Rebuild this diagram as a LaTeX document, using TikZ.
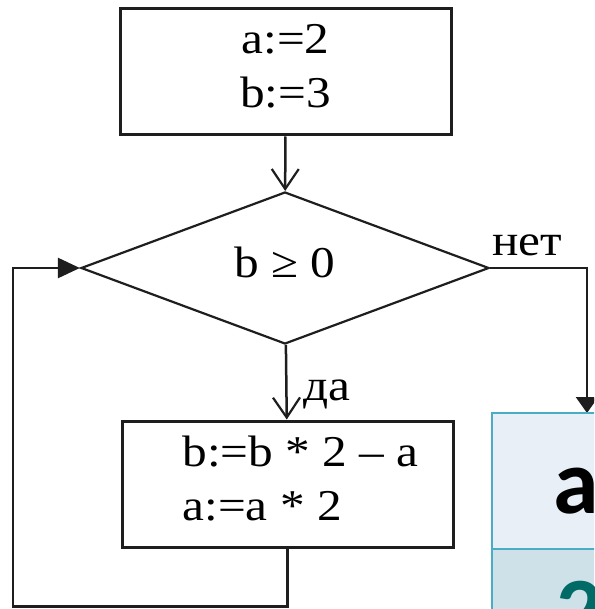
\documentclass[tikz,border=0pt]{standalone}
\usepackage{fontspec}
\setmainfont{Liberation Serif}[FakeStretch=1.12]
\newfontfamily\tabfont{Carlito}
\usetikzlibrary{shapes.geometric,arrows.meta,positioning}
\definecolor{lineblack}{HTML}{1E1E1E}
\definecolor{tabedge}{HTML}{4BACC6}
\definecolor{tabhead}{HTML}{E8EFF6}
\definecolor{tabrow}{HTML}{CFE1E8}
\definecolor{tabnum}{HTML}{006B66}

\begin{document}
\begin{tikzpicture}[x=1pt,y=-1pt,
    font=\fontsize{44}{54}\selectfont,
    block/.style={draw=lineblack, line width=3pt, rectangle, inner sep=0pt,
      minimum width=331pt, minimum height=126pt, text depth=12pt},
    decision/.style={draw=lineblack, line width=2.2pt, diamond, inner sep=0pt,
      minimum width=408pt, minimum height=152pt, text depth=12pt},
    flow/.style={draw=lineblack, line width=2.5pt},
    vee/.style={-{Straight Barb[length=20pt,width=27pt,line width=2.2pt]}},
    tri/.style={-{Triangle[length=22pt,width=20pt]}}]
    \useasboundingbox (0,0) rectangle (594,609);
    \clip (0,0) rectangle (594,609);

    % flowchart blocks
    \node[block, align=center] (init) at (285.5,72) {a:=2\\b:=3};
    \node[decision] (test) at (285,268) {b ≥ 0};
    \node[block, align=left] (update) at (287.5,484)
        {\hspace*{26pt}b:=b * 2 – a\\\hspace*{26pt}a:=a * 2};

    % branch labels
    \node[anchor=base west, inner sep=0pt] (yes) at (303,400) {да};
    \node[anchor=base west, inner sep=0pt] (no) at (492,255) {нет};

    % connectors
    \coordinate (exit) at (587,413);
    \draw[flow, vee] (init) -- (test);
    \draw[flow, vee] (test) -- (update);
    \draw[flow, -{Triangle[length=16pt,width=22pt]}] (test.east) -| (exit);
    \draw[flow, tri] (update.south) -- ++(0,58) -| (13,268) -- (test.west);

    % table in the corner
    \fill[tabhead] (492,413) rectangle (700,549);
    \fill[tabrow] (492,549) rectangle (700,700);
    \draw[tabedge, line width=2pt] (700,413) -- (492,413) -- (492,700)
        (492,549) -- (700,549);
    \node[anchor=base west, inner sep=0pt, font=\tabfont\bfseries\fontsize{92}{100}\selectfont]
        (head) at (553,513) {a};
    \node[anchor=base west, inner sep=0pt, text=tabnum,
        font=\tabfont\bfseries\fontsize{92}{100}\selectfont] (val) at (556,641) {2};
\end{tikzpicture}
\end{document}
